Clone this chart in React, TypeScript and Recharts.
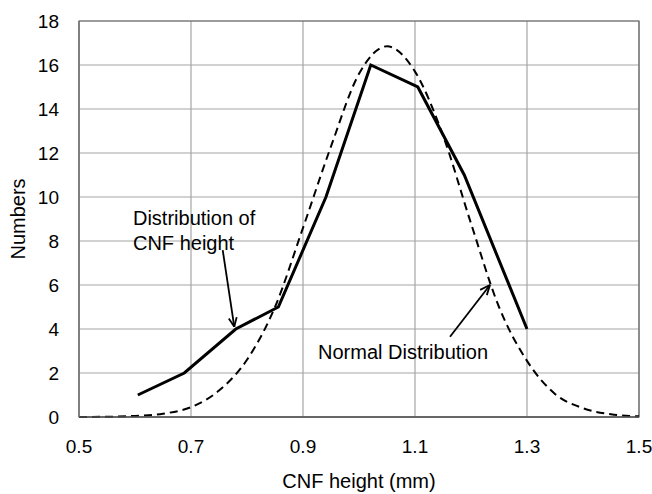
import React from "react"
import {
  LineChart,
  Line,
  XAxis,
  YAxis,
  CartesianGrid,
  ReferenceLine,
  ReferenceDot,
  ReferenceArea,
} from "recharts"

// measured CNF heights (mm) and counts
const cnfHeight = [0.605, 0.688, 0.78, 0.856, 0.941, 1.021, 1.105, 1.188, 1.3]
const cnfCount = [1, 2, 4, 5, 10, 16, 15, 11, 4]

// normal distribution curve
const normalX = [
  0.5, 0.55, 0.6, 0.65, 0.7, 0.75, 0.8, 0.85, 0.9, 0.95, 1.0, 1.05, 1.1, 1.15, 1.2, 1.25,
  1.3, 1.35, 1.4, 1.45, 1.5,
]
const normalY = [
  0.0, 0.01, 0.05, 0.15, 0.45, 1.2, 2.6, 5.0, 8.6, 12.3, 15.6, 16.85, 15.7, 12.8, 8.8, 5.0,
  2.55, 1.05, 0.4, 0.12, 0.03,
]

const xTicks = [0.5, 0.7, 0.9, 1.1, 1.3, 1.5]
const yTicks = [0, 2, 4, 6, 8, 10, 12, 14, 16, 18]

const measured = cnfHeight.map((x, i) => ({ x, y: cnfCount[i] }))
const normal = normalX.map((x, i) => ({ x, y: normalY[i] }))

const font = "'Liberation Sans', Arial, sans-serif"
const ink = "#000"

// annotation arrows: [tail, head, wing, wing] in data units
const arrows = [
  { tail: [0.7566, 7.59], head: [0.7773, 4.1], wings: [[0.7816, 4.54], [0.7675, 4.48]] },
  { tail: [1.1625, 3.65], head: [1.2339, 6.0], wings: [[1.2163, 5.78], [1.2282, 5.54]] },
]

const notes = [
  { x: 0.5964, y: 9.04, text: "Distribution of" },
  { x: 0.5964, y: 7.91, text: "CNF height" },
  { x: 0.9268, y: 2.97, text: "Normal Distribution" },
]

export default function App() {
  return (
    <div style={{ position: "absolute", left: 0, top: 0, background: "#fff" }}>
      <LineChart
        width={652}
        height={494}
        margin={{ top: 21, right: 13, bottom: 0, left: 0 }}
        style={{ fontFamily: font }}
      >
        <CartesianGrid stroke="#a6a6a6" strokeWidth={1.2} />
        <XAxis
          dataKey="x"
          type="number"
          domain={[0.5, 1.5]}
          ticks={xTicks}
          height={77}
          tickSize={0}
          tickMargin={23}
          axisLine={{ stroke: "#555", strokeWidth: 1.5 }}
          tick={{ fontSize: 19, fill: ink, fontFamily: font }}
          tickFormatter={(v) => String(v)}
          label={{
            value: "CNF height (mm)",
            position: "insideBottom",
            offset: 6,
            fontSize: 20,
            fill: ink,
            fontFamily: font,
          }}
        />
        <YAxis
          type="number"
          domain={[0, 18]}
          ticks={yTicks}
          width={79}
          tickSize={0}
          tickMargin={20}
          axisLine={{ stroke: "#777", strokeWidth: 1.2 }}
          tick={{ fontSize: 19, fill: ink, fontFamily: font }}
          label={{
            value: "Numbers",
            content: ({ viewBox }: any) => {
              const cy = viewBox.y + viewBox.height / 2
              return (
                <text
                  x={18}
                  y={cy}
                  transform={`rotate(-90 18 ${cy})`}
                  textAnchor="middle"
                  dominantBaseline="central"
                  fontSize={20}
                  fill={ink}
                  fontFamily={font}
                >
                  Numbers
                </text>
              )
            },
          }}
        />
        <ReferenceArea x1={0.5} x2={1.5} y1={0} y2={18} fill="none" stroke="#666" strokeWidth={1.2} />
        <Line
          data={normal}
          dataKey="y"
          type="monotone"
          stroke={ink}
          strokeWidth={2}
          strokeDasharray="8 5"
          dot={false}
          isAnimationActive={false}
        />
        <Line
          data={measured}
          dataKey="y"
          type="linear"
          stroke={ink}
          strokeWidth={3}
          dot={false}
          isAnimationActive={false}
        />
        {arrows.map((a, i) => (
          <ReferenceLine
            key={`shaft${i}`}
            segment={[
              { x: a.tail[0], y: a.tail[1] },
              { x: a.head[0], y: a.head[1] },
            ]}
            stroke={ink}
            strokeWidth={1.8}
          />
        ))}
        {arrows.flatMap((a, i) =>
          a.wings.map((w, j) => (
            <ReferenceLine
              key={`wing${i}${j}`}
              segment={[
                { x: w[0], y: w[1] },
                { x: a.head[0], y: a.head[1] },
              ]}
              stroke={ink}
              strokeWidth={1.8}
            />
          ))
        )}
        {notes.map((n) => (
          <ReferenceDot
            key={n.text}
            x={n.x}
            y={n.y}
            r={0}
            fill="none"
            stroke="none"
            label={{
              value: n.text,
              position: "right",
              offset: 0,
              fontSize: 20,
              fill: ink,
              fontFamily: font,
            }}
          />
        ))}
      </LineChart>
    </div>
  )
}
